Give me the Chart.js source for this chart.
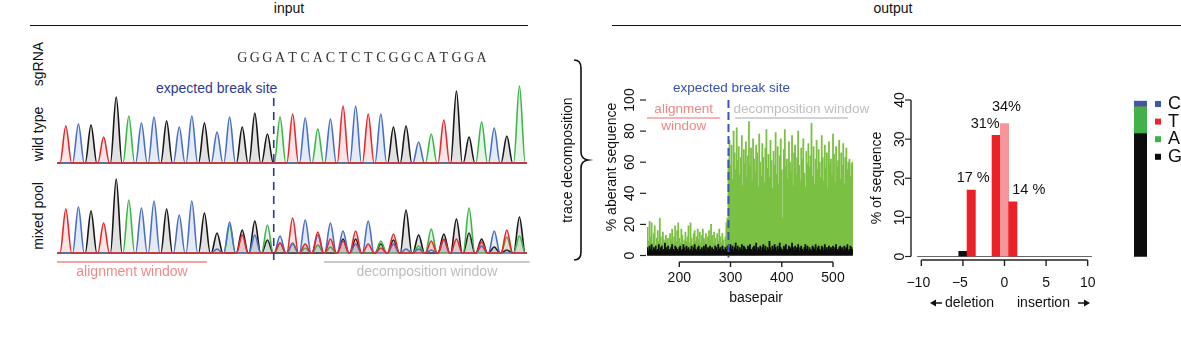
<!DOCTYPE html>
<html>
<head>
<meta charset="utf-8">
<script src="https://cdn.jsdelivr.net/npm/chart.js@4.4.1/dist/chart.umd.min.js"></script>
<style>
  html, body { margin: 0; padding: 0; background: #fff; }
  body { width: 1181px; height: 345px; position: relative; overflow: hidden; font-family: "Liberation Sans", Arial, sans-serif; color: #111; }
  canvas { position: absolute; }
  .lbl { position: absolute; white-space: nowrap; line-height: 1; }
  .ctr { transform: translate(-50%, -50%); }
  .rot { transform: translate(-50%, -50%) rotate(-90deg); }
  .rule { position: absolute; height: 0; border-top: 1.5px solid #111; }
</style>
</head>
<body>
<div class="lbl ctr" style="left:289px;top:8px;font-size:14px">input</div>
<div class="rule" style="left:30px;top:25px;width:498px"></div>
<div class="lbl ctr" style="left:893px;top:8px;font-size:14px">output</div>
<div class="rule" style="left:612px;top:25px;width:569px"></div>

<div class="lbl rot" style="left:38px;top:64px;font-size:14px">sgRNA</div>
<div class="lbl rot" style="left:38px;top:134px;font-size:14px">wild type</div>
<div class="lbl rot" style="left:38px;top:216px;font-size:14px">mixed pool</div>
<div class="lbl" style="left:156px;top:81px;font-size:14px;color:#2e3a93">expected break site</div>

<canvas id="wildTrace"></canvas>
<canvas id="mixedTrace"></canvas>
<canvas id="aberrant"></canvas>
<canvas id="indels"></canvas>
<canvas id="composition"></canvas>

<script>
// ---- chromatogram peaks, one value per called base (0 = no peak) ----
const sgRNA = "GGGATCACTCTCGGCATGGA";
const sgStart = 14;
const breakBase = 16.5;
const traceRange = [-0.7, 36.6];
const alignBases = [-0.7, 11.2];
const decompBases = [20.5, 36.8];

const wtT = [37,0,0,26,0,0,0,0,0,0,0,0,0,0,0,0,0,0,49,0,0,0,57,0,49,0,0,0,0,0,43,0,0,0,0,0,0];
const wtC = [0,39,0,0,0,0,40,46,0,36,47,0,31,46,0,0,0,0,0,45,0,44,0,57,0,49,0,0,21,0,0,0,0,0,35,0,0];
const wtG = [0,0,38,0,66,0,0,0,42,0,0,40,0,0,36,50,29,0,0,0,0,0,0,0,0,0,36,37,0,0,0,72,26,0,0,27,0];
const wtA = [0,0,0,0,0,47,0,0,0,0,0,0,0,0,0,0,0,46,0,0,34,0,0,0,0,0,0,0,0,29,0,0,0,41,0,0,77];

const mxT = [44,0,0,30,0,0,0,0,0,0,0,0,0,0,18,0,0,10,35,9,21,14,12,22,9,5,19,0,0,12,14,14,0,11,0,23,0];
const mxC = [0,46,0,0,0,0,45,52,0,38,52,0,4,31,0,18,0,17,10,33,18,30,22,9,32,0,9,4,4,3,13,0,0,7,22,0,0];
const mxG = [0,0,42,0,74,0,0,0,44,0,0,40,20,0,23,32,13,0,0,0,0,0,14,14,0,9,13,43,18,0,19,34,20,14,6,3,36];
const mxA = [0,0,0,0,0,53,0,0,0,0,0,0,0,28,0,0,28,10,9,5,8,6,0,0,0,12,0,0,7,24,0,0,45,0,0,16,17];

// ---- % aberrant sequence per position (every 2nd basepair from 138) ----
const bpStart = 138;
const bpStep = 2;
const breakBp = 296;
const alignBp = [137, 280];
const decompBp = [309, 529];
const bpTicks = [200, 300, 400, 500];
const pctTicks = [0, 20, 40, 60, 80, 100];

const aberrantPct = [
  18,9,22,12,21,8,14,19,7,11,
  16,9,24,12,8,15,10,6,13,9,
  11,7,14,10,17,8,12,19,9,16,
  21,11,8,17,13,7,10,15,9,12,
  19,8,21,11,7,14,16,9,12,17,
  10,15,8,13,17,11,9,14,7,12,
  16,10,20,13,8,15,11,7,14,9,
  17,12,8,14,10,6,12,21,24,
  62,74,58,71,49,80,66,55,82,61,
  70,52,63,77,45,68,59,73,50,64,
  86,57,69,48,75,62,53,71,66,44,
  78,60,51,72,63,47,69,81,56,65,
  50,74,61,43,67,58,79,52,70,46,
  64,75,55,24,68,81,57,62,49,73,
  60,54,77,45,66,71,52,63,80,58,
  48,69,62,75,53,44,67,59,72,57,
  64,85,51,70,46,62,74,55,68,60,
  50,77,63,48,71,56,66,43,73,59,
  62,52,78,65,47,70,57,61,74,49,
  66,58,72,46,63,69,55,60,62,51,
  59,60
];
const noisePct = [
  5,3,6,4,7,3,5,4,6,3,
  4,7,3,5,6,3,4,8,5,3,
  6,4,3,5,7,4,3,6,5,4,
  3,5,6,3,4,7,5,3,6,4,
  5,3,4,6,3,5,7,4,3,5,
  6,3,4,5,3,6,4,7,3,5,
  4,6,3,5,4,3,6,5,3,7,
  4,5,3,6,4,3,5,4,6,3,
  5,7,4,6,3,5,8,4,6,3,
  5,4,7,3,6,5,4,3,6,5,
  7,4,3,5,6,4,8,3,5,4,
  6,3,5,7,4,6,3,5,4,9,
  5,3,6,4,7,5,3,6,4,8,
  5,4,3,6,5,7,4,3,6,5,
  4,8,5,3,6,4,5,7,3,5,
  6,4,3,5,7,4,6,3,5,4,
  3,6,5,4,7,3,5,6,4,3,
  6,5,3,7,4,5,3,6,4,5,
  4,6,3,5,7,4,3,5,6,4,
  5,3,6,4,5,7,3,4,6,5,
  4
];

// ---- indel spectrum ----
const indelSize = [-5, -4, -1, 0, 1];
const indelPct = [1.3, 17, 31, 34, 14];
const indelText = ["", "17 %", "31%", "34%", "14 %"];
const indelTicks = [-10, -5, 0, 5, 10];
const seqTicks = [0, 10, 20, 30, 40];

// ---- inserted base composition ----
const bases = ["G", "A", "T", "C"];
const baseShare = [79, 17, 0, 4];
const legendOrder = ["C", "T", "A", "G"];

// colours
const traceColor = { A: "#3fb44a", C: "#4a70c4", G: "#161616", T: "#e8262c" };
const traceFill = { A: "rgba(63,180,74,0.13)", C: "rgba(74,112,196,0.15)", G: "rgba(22,22,22,0.13)", T: "rgba(232,38,44,0.12)" };
const baseColor = { A: "#41b24a", C: "#3b59a8", G: "#0d0d0d", T: "#e8262c" };
const FONT = "'Liberation Sans', Arial, sans-serif";

function place(id, left, top, width, height) {
  const c = document.getElementById(id);
  c.width = width; c.height = height;
  Object.assign(c.style, { left: left + "px", top: top + "px", width: width + "px", height: height + "px" });
  return c;
}

function baseOptions(padding, scales) {
  return {
    responsive: false, animation: false, events: [],
    layout: { padding },
    plugins: { legend: { display: false }, tooltip: { enabled: false } },
    scales,
  };
}

function peakPoints(heights) {
  const pts = [{ x: traceRange[0], y: 0 }];
  heights.forEach((h, i) => {
    if (!h) return;
    pts.push({ x: i - 0.46, y: 0 }, { x: i, y: h }, { x: i + 0.46, y: 0 });
  });
  pts.push({ x: traceRange[1], y: 0 });
  return pts;
}

function traceSets(series) {
  // red first so its baseline sits on top
  return ["T", "C", "A", "G"].map((b) => ({
    data: peakPoints(series[b]),
    borderColor: traceColor[b],
    backgroundColor: traceFill[b],
    borderWidth: 1.6,
    fill: "origin",
    pointRadius: 0,
    cubicInterpolationMode: "monotone",
    clip: false,
  }));
}

const traceScales = {
  x: { type: "linear", display: false, min: traceRange[0], max: traceRange[1] },
  y: { display: false, min: 0, max: 80 },
};

function text(ctx, str, x, y, font, color, align = "center", rot = 0) {
  ctx.save();
  ctx.translate(x, y);
  if (rot) ctx.rotate(rot);
  ctx.font = font;
  ctx.fillStyle = color;
  ctx.textAlign = align;
  ctx.textBaseline = "middle";
  ctx.fillText(str, 0, 0);
  ctx.restore();
}

function line(ctx, x1, y1, x2, y2, color, width, dash) {
  ctx.save();
  ctx.strokeStyle = color;
  ctx.lineWidth = width;
  if (dash) ctx.setLineDash(dash);
  ctx.beginPath();
  ctx.moveTo(x1, y1);
  ctx.lineTo(x2, y2);
  ctx.stroke();
  ctx.restore();
}

// wild type trace + sgRNA letters
new Chart(place("wildTrace", 50, 40, 484, 128), {
  type: "line",
  data: { datasets: traceSets({ T: wtT, C: wtC, G: wtG, A: wtA }) },
  options: baseOptions({ left: 7, right: 7, top: 43, bottom: 5 }, traceScales),
  plugins: [{
    id: "sgLetters",
    afterDraw(chart) {
      const { ctx, scales: { x } } = chart;
      [...sgRNA].forEach((ch, k) => {
        text(ctx, ch, x.getPixelForValue(sgStart + k), 18, "14px 'Liberation Serif', serif", "#333");
      });
    },
  }],
});

// mixed pool trace, break site and windows
new Chart(place("mixedTrace", 50, 95, 484, 185), {
  type: "line",
  data: { datasets: traceSets({ T: mxT, C: mxC, G: mxG, A: mxA }) },
  options: baseOptions({ left: 7, right: 7, top: 78, bottom: 27 }, traceScales),
  plugins: [{
    id: "traceMarks",
    afterDraw(chart) {
      const { ctx, scales: { x } } = chart;
      const bx = x.getPixelForValue(breakBase);
      line(ctx, bx, 3, bx, 167, "#2b3a8f", 1.6, [8, 6]);
      const a0 = x.getPixelForValue(alignBases[0]), a1 = x.getPixelForValue(alignBases[1]);
      line(ctx, a0, 167, a1, 167, "#f4a3a3", 2);
      text(ctx, "alignment window", (a0 + a1) / 2, 177, "14px " + FONT, "#f08a8a");
      const d0 = x.getPixelForValue(decompBases[0]), d1 = x.getPixelForValue(decompBases[1]);
      line(ctx, d0, 167, d1, 167, "#c8c8c8", 2);
      text(ctx, "decomposition window", (d0 + d1) / 2, 177, "14px " + FONT, "#bdbdbd");
    },
  }],
});

// aberrant sequence along the read
const bpOf = (i) => bpStart + i * bpStep;
new Chart(place("aberrant", 560, 40, 320, 280), {
  type: "bar",
  data: {
    datasets: [
      { data: noisePct.map((v, i) => ({ x: bpOf(i), y: v })), backgroundColor: "#0c0c0c", order: 0 },
      { data: aberrantPct.map((v, i) => ({ x: bpOf(i), y: v })), backgroundColor: "#7bc043", order: 1 },
    ],
  },
  options: {
    ...baseOptions({ left: 87, right: 27, top: 60, bottom: 64.5 }, {
      x: { type: "linear", display: false, offset: false, min: 137, max: 539 },
      y: { display: false, min: 0, max: 100 },
    }),
    datasets: { bar: { grouped: false, barPercentage: 1, categoryPercentage: 1, inflateAmount: 0.4 } },
  },
  plugins: [{
    id: "aberrantAxes",
    afterDraw(chart) {
      const { ctx, scales: { x, y } } = chart;
      const f = "14px " + FONT;
      // bracket joining input and output
      ctx.save();
      ctx.strokeStyle = "#111"; ctx.lineWidth = 1.6;
      ctx.beginPath();
      ctx.moveTo(14, 20);
      ctx.quadraticCurveTo(21, 20, 21, 28);
      ctx.lineTo(21, 112);
      ctx.quadraticCurveTo(21, 119, 28, 120);
      ctx.quadraticCurveTo(21, 121, 21, 128);
      ctx.lineTo(21, 212);
      ctx.quadraticCurveTo(21, 220, 14, 220);
      ctx.stroke();
      ctx.restore();
      text(ctx, "trace decomposition", 8, 120, f, "#111", "center", -Math.PI / 2);
      // y axis
      pctTicks.forEach((v) => {
        const py = y.getPixelForValue(v);
        line(ctx, x.left - 7, py, x.left - 1, py, "#222", 1.2);
        text(ctx, String(v), x.left - 17, py, f, "#111", "center", -Math.PI / 2);
      });
      text(ctx, "% aberant sequence", x.left - 35, 127, f, "#111", "center", -Math.PI / 2);
      // x axis, offset below the bars
      const ay = y.bottom + 6.5;
      line(ctx, x.getPixelForValue(bpTicks[0]), ay, x.getPixelForValue(bpTicks[bpTicks.length - 1]), ay, "#222", 1.6);
      bpTicks.forEach((v) => {
        const px = x.getPixelForValue(v);
        line(ctx, px, ay, px, ay + 5, "#222", 1.4);
        text(ctx, String(v), px, ay + 16, f, "#111");
      });
      text(ctx, "basepair", (x.getPixelForValue(bpTicks[0]) + x.getPixelForValue(bpTicks[3])) / 2, ay + 36, f, "#111");
      // windows and break site
      const bx = x.getPixelForValue(breakBp);
      line(ctx, bx, y.top, bx, y.bottom + 2, "#3a58b5", 2, [8, 4]);
      text(ctx, "expected break site", bx + 3, y.top - 12, "13.5px " + FONT, "#3652ab");
      const wy = y.top + 18;
      const a0 = x.getPixelForValue(alignBp[0]), a1 = x.getPixelForValue(alignBp[1]);
      line(ctx, a0, wy, a1, wy, "#f39b9b", 1.6);
      text(ctx, "alignment", (a0 + a1) / 2, wy - 9, "13.5px " + FONT, "#f08585");
      text(ctx, "window", (a0 + a1) / 2, wy + 8, "13.5px " + FONT, "#f08585");
      const d0 = x.getPixelForValue(decompBp[0]), d1 = x.getPixelForValue(decompBp[1]);
      line(ctx, d0, wy, d1, wy, "#c4c4c4", 1.6);
      text(ctx, "decomposition window", bx + 5, wy - 9, "13.5px " + FONT, "#bebebe", "left");
    },
  }],
});

// indel spectrum
new Chart(place("indels", 870, 40, 250, 280), {
  type: "bar",
  data: {
    datasets: [{
      data: indelSize.map((s, i) => ({ x: s, y: indelPct[i] })),
      backgroundColor: indelSize.map((s, i) => (s === 0 ? "#f4969a" : i === 0 ? "#111" : "#ec2127")),
    }],
  },
  options: {
    ...baseOptions({ left: 43, right: 24, top: 60, bottom: 63.5 }, {
      x: { type: "linear", display: false, offset: false, min: -11, max: 11 },
      y: { display: false, min: 0, max: 40 },
    }),
    datasets: { bar: { barPercentage: 1, categoryPercentage: 1 } },
  },
  plugins: [{
    id: "indelAxes",
    beforeDatasetsDraw(chart) {
      const { ctx, scales: { x, y } } = chart;
      line(ctx, x.getPixelForValue(-10.5), y.getPixelForValue(0), x.getPixelForValue(10.5), y.getPixelForValue(0), "#666", 1);
    },
    afterDraw(chart) {
      const { ctx, scales: { x, y } } = chart;
      const f = "14px " + FONT;
      const offsets = [[0, 0], [2, -12], [-11, -11], [2, -16], [16, -12]];
      indelText.forEach((t, i) => {
        if (!t) return;
        const px = x.getPixelForValue(indelSize[i]) + offsets[i][0];
        const py = y.getPixelForValue(indelPct[i]) + offsets[i][1];
        text(ctx, t, px, py, "14.5px " + FONT, "#111");
      });
      const ax = x.left - 2;
      line(ctx, ax, y.getPixelForValue(0), ax, y.getPixelForValue(40), "#222", 1.4);
      seqTicks.forEach((v) => {
        const py = y.getPixelForValue(v);
        line(ctx, ax - 6, py, ax, py, "#222", 1.2);
        text(ctx, String(v), ax - 11, py, f, "#111", "center", -Math.PI / 2);
      });
      text(ctx, "% of sequence", 7, 138, f, "#111", "center", -Math.PI / 2);
      const ay = y.bottom + 3.5;
      line(ctx, x.getPixelForValue(-10), ay, x.getPixelForValue(10), ay, "#222", 1.6);
      indelTicks.forEach((v) => {
        const px = x.getPixelForValue(v);
        line(ctx, px, ay, px, ay + 6, "#222", 1.4);
        text(ctx, v < 0 ? "\u2212" + Math.abs(v) : String(v), px - (v < 0 ? 3 : 0), ay + 23, f, "#111");
      });
      const ly = ay + 43;
      text(ctx, "deletion", 75, ly, f, "#111", "left");
      text(ctx, "insertion", 147, ly, f, "#111", "left");
      ctx.save();
      ctx.fillStyle = "#111"; ctx.strokeStyle = "#111"; ctx.lineWidth = 1.5;
      [[60, 72, -1], [220, 208, 1]].forEach(([tip, tail, dir]) => {
        ctx.beginPath(); ctx.moveTo(tail, ly); ctx.lineTo(tip - dir * 4, ly); ctx.stroke();
        ctx.beginPath(); ctx.moveTo(tip, ly); ctx.lineTo(tip - dir * 6, ly - 3.5); ctx.lineTo(tip - dir * 6, ly + 3.5); ctx.closePath(); ctx.fill();
      });
      ctx.restore();
    },
  }],
});

// inserted base composition with its legend
new Chart(place("composition", 1120, 40, 61, 280), {
  type: "bar",
  data: {
    labels: ["ins"],
    datasets: bases.map((b, i) => ({ data: [baseShare[i]], backgroundColor: baseColor[b] })),
  },
  options: {
    ...baseOptions({ left: 14, right: 34, top: 60.7, bottom: 63.3 }, {
      x: { display: false, stacked: true },
      y: { display: false, stacked: true, min: 0, max: 100 },
    }),
    datasets: { bar: { barPercentage: 1, categoryPercentage: 1 } },
  },
  plugins: [{
    id: "baseLegend",
    afterDraw(chart) {
      const { ctx } = chart;
      legendOrder.forEach((b, i) => {
        const cy = 64 + i * 17.6;
        ctx.fillStyle = baseColor[b];
        ctx.fillRect(35, cy - 3, 6, 6);
        text(ctx, b, 48, cy, "18px " + FONT, "#111", "left");
      });
    },
  }],
});
</script>
</body>
</html>
